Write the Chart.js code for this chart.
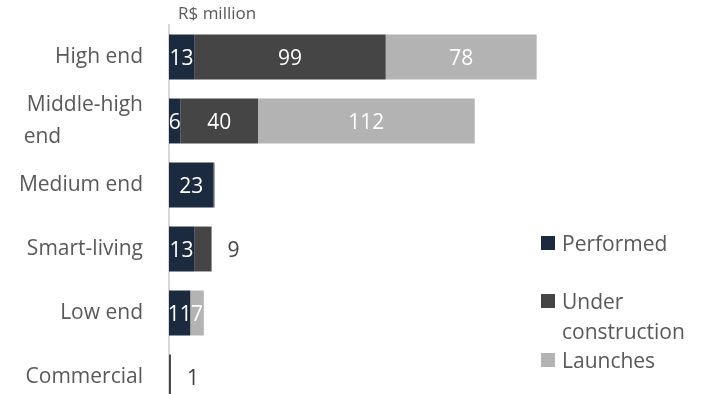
<!DOCTYPE html>
<html>
<head>
<meta charset="utf-8">
<script src="https://cdn.jsdelivr.net/npm/chart.js@4/dist/chart.umd.min.js"></script>
<style>
  body { margin: 0; overflow: hidden; background: #fff; font-family: 'Open Sans', sans-serif; }
  #wrap { position: relative; width: 708px; height: 394px; overflow: hidden; }
  canvas { display: block; }
  .item { position: absolute; left: 541px; width: 160px; color: #595959; font-size: 21px; line-height: 30px; }
  .item .box { position: absolute; left: 0; top: 8px; width: 14px; height: 14px; }
  .item .txt { margin-left: 21px; }
</style>
</head>
<body>
<div id="wrap">
  <canvas id="bars" width="708" height="412"></canvas>
  <div class="item" style="top:228px"><span class="box" style="background:#1c2a3f"></span><div class="txt">Performed</div></div>
  <div class="item" style="top:286px"><span class="box" style="background:#454545"></span><div class="txt">Under construction</div></div>
  <div class="item" style="top:345px"><span class="box" style="background:#b3b3b3"></span><div class="txt">Launches</div></div>
</div>
<script>
// segments by product line, R$ million
const categories = ['High end', ['Middle-high', 'end               '], 'Medium end', 'Smart-living', 'Low end', 'Commercial'];
const performed = [13, 6, 23, 13, 11, 0];
const underConstruction = [99, 40, 0.5, 9, 0, 1];
const launches = [78, 112, 0, 0, 7, 0];
// dataset whose value label sits to the right of the bar (-1 = none)
const outsideLabels = [-1, -1, -1, 1, -1, 1];

const textGray = '#595959';

// value labels inside (or just after) each segment
const barLabels = {
  id: 'barLabels',
  afterDatasetsDraw(chart) {
    const ctx = chart.ctx;
    ctx.save();
    ctx.font = '21px "Open Sans"';
    ctx.textBaseline = 'middle';
    chart.data.datasets.forEach((ds, di) => {
      chart.getDatasetMeta(di).data.forEach((bar, i) => {
        const v = ds.data[i];
        if (!v || v < 1) return;
        if (outsideLabels[i] === di) {
          ctx.textAlign = 'left';
          ctx.fillStyle = '#404040';
          ctx.fillText(String(v), bar.x + 16, bar.y + 2);
        } else {
          ctx.textAlign = 'center';
          ctx.fillStyle = '#ffffff';
          ctx.fillText(String(v), (bar.x + bar.base) / 2, bar.y + 2);
        }
      });
    });
    ctx.restore();
  }
};

// unit note above the axis
const unitNote = {
  id: 'unitNote',
  afterDraw(chart) {
    const ctx = chart.ctx;
    ctx.save();
    ctx.font = '17px "Open Sans"';
    ctx.fillStyle = textGray;
    ctx.textAlign = 'left';
    ctx.textBaseline = 'middle';
    ctx.fillText('R$ million', chart.chartArea.left + 9, 14);
    ctx.restore();
  }
};

const ctx = document.getElementById('bars').getContext('2d');
new Chart(ctx, {
  type: 'bar',
  data: {
    labels: categories,
    datasets: [
      { label: 'Performed', data: performed, backgroundColor: '#1c2a3f' },
      { label: 'Under construction', data: underConstruction, backgroundColor: '#454545' },
      { label: 'Launches', data: launches, backgroundColor: '#b3b3b3' }
    ]
  },
  options: {
    indexAxis: 'y',
    responsive: false,
    animation: false,
    barPercentage: 0.9,
    categoryPercentage: 0.78,
    layout: { padding: { top: 25, right: 152, bottom: 3, left: 0 } },
    plugins: {
      legend: { display: false },
      tooltip: { enabled: false }
    },
    scales: {
      x: {
        stacked: true,
        min: 0,
        max: 200,
        display: false
      },
      y: {
        stacked: true,
        afterFit(scale) {
          scale.width = 169;
          scale.paddingTop = 0;
          scale.paddingBottom = 0;
        },
        grid: { display: false, drawTicks: false },
        border: { display: true, color: '#d9d9d9', width: 2 },
        ticks: {
          autoSkip: false,
          padding: 26,
          color: textGray,
          font: { family: 'Open Sans', size: 21, lineHeight: 1.5 }
        }
      }
    }
  },
  plugins: [barLabels, unitNote]
});
</script>
</body>
</html>
